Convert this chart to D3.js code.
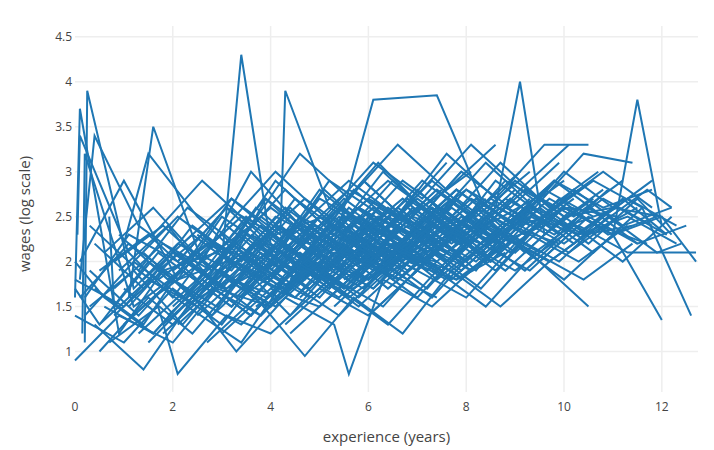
<!DOCTYPE html><html><head><meta charset="utf-8"><script src="https://cdn.jsdelivr.net/npm/d3@7"></script>
<style>body{margin:0;background:#fff}text{font-family:"Open Sans",sans-serif}</style></head><body><svg id="c" width="714" height="450"></svg>
<script>
const xTicks=[0,2,4,6,8,10,12];
const yTicks=[1,1.5,2,2.5,3,3.5,4,4.5];
const workers=[
[[0,1.6],[0.1,3.7],[0.9,1.2],[1.8,1.9],[2.9,2.1],[3.9,1.8],[4.8,2.3],[5.9,2.0]],
[[0.2,1.1],[0.25,3.9],[1.2,1.7],[2.1,2.2],[3.2,1.9],[4.1,2.5],[5.2,2.2],[6.1,2.6]],
[[0.05,2.3],[0.1,3.4],[1.1,2.1],[2.0,1.6],[3.1,2.4],[4.0,2.0],[5.0,2.7],[6.0,2.4]],
[[0,0.9],[0.9,1.4],[2.0,1.1],[2.9,1.7],[4.0,1.5],[5.1,2.0],[6.0,1.8],[7.1,2.2]],
[[0.3,1.5],[1.2,1.9],[2.2,1.3],[3.3,2.0],[4.2,2.4],[5.3,1.9],[6.2,2.6],[7.2,2.3]],
[[0.1,1.8],[0.4,3.4],[1.3,2.4],[2.3,2.0],[3.2,2.7],[4.3,2.2],[5.2,2.9],[6.3,2.5]],
[[0.5,1.0],[1.5,1.6],[2.4,1.2],[3.5,1.9],[4.4,1.4],[5.5,2.1],[6.4,1.7],[7.5,2.2]],
[[0.8,1.7],[1.8,2.2],[2.8,1.9],[3.7,2.6],[4.8,2.1],[5.7,2.8],[6.8,2.3],[7.7,2.7]],
[[1.0,1.3],[2.0,1.8],[2.9,1.5],[4.0,2.3],[4.9,1.9],[6.0,2.4],[6.9,2.1],[8.0,2.6]],
[[1.2,2.0],[2.1,2.5],[3.1,2.1],[4.1,2.9],[5.1,2.4],[6.2,3.1],[7.1,2.6],[8.1,3.0]],
[[1.5,1.1],[2.4,1.6],[3.4,1.3],[4.5,1.9],[5.4,1.6],[6.5,2.2],[7.4,1.8],[8.5,2.3]],
[[1.7,1.9],[2.6,2.3],[3.6,1.8],[4.6,2.5],[5.6,2.2],[6.7,2.7],[7.6,2.3],[8.7,2.8]],
[[2.0,1.5],[3.0,2.0],[3.4,4.3],[4.0,2.2],[5.0,1.8],[6.0,2.5],[7.0,2.1],[8.0,2.4],[9.0,2.2]],
[[2.2,2.2],[3.2,2.7],[4.2,2.3],[4.3,3.9],[5.2,2.6],[6.2,2.3],[7.3,2.9],[8.2,2.5],[9.3,3.0]],
[[2.5,1.4],[3.5,1.9],[4.5,1.6],[5.5,2.2],[6.5,1.8],[7.5,2.4],[8.5,2.0],[9.5,2.5]],
[[2.8,1.8],[3.8,2.4],[4.8,2.0],[5.8,2.6],[6.8,2.3],[7.8,2.8],[8.8,2.4],[9.8,2.9]],
[[3.0,1.2],[4.0,1.7],[5.0,1.5],[6.0,2.0],[7.0,1.6],[8.0,2.2],[9.0,1.9],[10.0,2.3]],
[[3.3,2.0],[4.3,2.6],[5.3,2.2],[6.1,3.8],[7.4,3.85],[8.3,2.7],[9.3,2.4],[10.3,2.8]],
[[3.6,1.6],[4.6,2.1],[5.6,1.7],[6.6,2.4],[7.6,2.0],[8.6,2.6],[9.1,4.0],[9.6,2.3],[10.6,2.7]],
[[4.0,1.9],[5.0,2.5],[6.0,2.1],[7.0,2.8],[8.0,2.3],[9.0,2.9],[10.0,2.5],[11.0,2.6]],
[[4.3,1.3],[5.3,1.8],[6.3,1.5],[7.3,2.1],[8.3,1.7],[9.3,2.3],[10.3,2.0],[11.3,2.4]],
[[4.6,2.3],[5.6,2.8],[6.6,2.5],[7.6,3.2],[8.6,2.7],[9.6,3.3],[10.5,3.3]],
[[5.0,1.7],[6.0,2.2],[7.0,1.9],[8.0,2.5],[9.0,2.1],[10.0,2.6],[11.0,2.3],[11.5,3.8],[12.0,2.4]],
[[5.3,1.5],[6.3,2.0],[7.3,1.6],[8.3,2.2],[9.3,1.9],[10.3,2.4],[11.3,2.1],[12.7,2.1]],
[[5.6,2.0],[6.6,2.6],[7.6,2.2],[8.6,2.9],[9.6,2.5],[10.6,2.9],[11.6,2.6],[12.6,1.4]],
[[6.0,1.4],[7.0,1.9],[8.0,1.6],[9.0,2.2],[10.0,1.8],[11.0,2.3],[12.0,1.35]],
[[6.5,1.8],[7.5,2.4],[8.5,2.0],[9.5,2.6],[10.5,2.2],[11.5,2.7],[12.2,2.3]],
[[7.0,2.2],[8.0,2.8],[9.0,2.4],[10.0,3.0],[11.0,2.6],[12.0,2.5],[12.7,2.0]],
[[0,1.4],[1.0,1.1],[2.0,1.7],[3.0,1.3],[4.0,2.0],[5.0,1.6],[6.0,2.2],[7.0,1.9]],
[[0.1,2.0],[1.0,2.9],[2.1,1.8],[3.0,2.5],[4.1,2.1],[5.0,2.8],[6.1,2.3],[7.0,2.6]],
[[0.4,1.3],[1.4,0.8],[2.3,1.5],[3.4,1.1],[4.3,1.8],[5.4,1.4],[6.3,1.9],[7.4,1.6]],
[[0.6,2.1],[1.6,2.6],[2.6,2.0],[3.6,3.0],[4.6,2.4],[5.6,2.9],[6.6,2.5],[7.6,3.1]],
[[0.7,1.1],[1.7,1.5],[2.1,0.75],[3.1,1.4],[4.0,1.2],[5.0,1.7],[6.0,1.4],[7.0,1.9]],
[[0.9,1.9],[1.9,2.4],[2.9,1.7],[3.9,2.7],[4.9,2.3],[5.9,2.9],[6.9,2.4],[7.9,3.0]],
[[1.1,1.6],[1.6,3.5],[2.6,2.0],[3.6,2.4],[4.6,1.9],[5.6,2.6],[6.6,2.2],[7.6,2.5]],
[[1.3,1.2],[2.3,1.7],[3.3,1.0],[4.3,1.6],[5.3,1.3],[5.6,0.75],[6.3,1.8],[7.3,1.5],[8.3,2.0]],
[[1.6,2.3],[2.6,2.9],[3.6,2.4],[4.6,3.2],[5.6,2.7],[6.6,3.3],[7.6,2.8],[8.6,3.3]],
[[1.9,1.4],[2.9,1.9],[3.9,1.5],[4.9,2.0],[5.9,1.7],[6.9,2.3],[7.9,1.9],[8.9,2.4]],
[[2.3,1.7],[3.3,2.2],[4.3,1.8],[5.3,2.5],[6.3,2.0],[7.3,2.6],[8.3,2.2],[9.3,2.7]],
[[2.7,1.1],[3.7,1.6],[4.7,0.95],[5.7,1.6],[6.7,1.2],[7.7,1.9],[8.7,1.5],[9.7,2.0]],
[[3.1,2.4],[4.1,3.0],[5.1,2.5],[6.1,3.1],[7.1,2.7],[8.1,3.3],[9.1,2.8],[10.1,3.3]],
[[3.5,1.5],[4.5,2.1],[5.5,1.7],[6.5,2.3],[7.5,1.9],[8.5,2.5],[9.5,2.0],[10.5,1.5]],
[[3.9,1.8],[4.9,2.3],[5.9,1.9],[6.9,2.6],[7.9,2.2],[8.9,2.7],[9.9,2.3],[10.9,2.8]],
[[4.4,1.2],[5.4,1.7],[6.4,1.3],[7.4,1.9],[8.4,1.5],[9.4,2.1],[10.4,1.8],[11.4,2.2]],
[[4.8,2.0],[5.8,2.5],[6.8,2.1],[7.8,2.7],[8.8,2.3],[9.8,2.9],[10.8,2.5],[11.8,2.9]],
[[5.2,1.6],[6.2,2.1],[7.2,1.7],[8.2,2.3],[9.2,1.9],[10.2,2.4],[11.2,2.0],[12.2,2.5]],
[[5.8,2.2],[6.8,2.7],[7.8,2.3],[8.8,2.9],[9.8,2.6],[10.8,3.0],[11.8,2.6]],
[[6.2,1.9],[7.2,2.4],[8.2,1.9],[9.2,2.6],[10.2,2.2],[11.2,2.7],[12.1,2.3]],
[[0,1.7],[0.5,1.3],[1.5,2.0],[2.5,1.6],[3.5,2.3],[4.5,1.9],[5.5,2.5],[6.5,2.1]],
[[0.15,1.2],[0.2,3.2],[1.2,1.5],[2.2,1.9],[3.2,1.5],[4.2,2.1],[5.2,1.7],[6.2,2.3]],
[[0.3,2.4],[1.3,1.9],[2.3,2.6],[3.3,2.2],[4.3,2.8],[5.3,2.3],[6.3,3.0],[7.3,2.5]],
[[0.5,1.9],[1.5,2.3],[2.5,1.8],[3.5,2.5],[4.5,2.1],[5.5,2.7],[6.5,2.3],[7.5,2.8]],
[[0.8,1.4],[1.8,1.9],[2.8,1.4],[3.8,2.1],[4.8,1.7],[5.8,2.3],[6.8,1.9],[7.8,2.3]],
[[1.0,2.2],[1.5,3.2],[2.5,2.5],[3.5,2.0],[4.5,2.7],[5.5,2.3],[6.5,2.9],[7.5,2.4]],
[[1.4,1.8],[2.4,2.3],[3.4,1.9],[4.4,2.5],[5.4,2.0],[6.4,2.6],[7.4,2.2],[8.4,2.7]],
[[1.8,1.3],[2.8,1.8],[3.8,1.4],[4.8,2.0],[5.8,1.6],[6.8,2.1],[7.8,1.8],[8.8,2.2]],
[[2.1,2.0],[3.1,2.6],[4.1,2.1],[5.1,2.8],[6.1,2.3],[7.1,2.9],[8.1,2.5],[9.1,3.0]],
[[2.4,1.6],[3.4,2.1],[4.4,1.7],[5.4,2.3],[6.4,1.9],[7.4,2.5],[8.4,2.0],[9.4,2.6]],
[[2.9,2.1],[3.9,2.7],[4.9,2.2],[5.9,2.9],[6.9,2.4],[7.9,3.0],[8.9,2.6],[9.9,3.1]],
[[3.2,1.7],[4.2,2.2],[5.2,1.8],[6.2,2.4],[7.2,2.0],[8.2,2.6],[9.2,2.1],[10.2,2.6]],
[[3.7,2.2],[4.7,2.7],[5.7,2.3],[6.7,2.9],[7.7,2.5],[8.7,3.1],[9.7,2.6],[10.7,3.0]],
[[4.1,1.6],[5.1,2.0],[6.1,1.7],[7.1,2.3],[8.1,1.9],[9.1,2.4],[10.1,2.1],[11.1,2.5]],
[[4.5,1.9],[5.5,2.4],[6.5,2.0],[7.5,2.6],[8.5,2.2],[9.5,2.7],[10.5,2.3],[11.5,2.6]],
[[5.4,2.4],[6.4,2.9],[7.4,2.5],[8.4,3.1],[9.4,2.6],[10.4,3.2],[11.4,3.1]],
[[5.9,1.7],[6.9,2.2],[7.9,1.8],[8.9,2.3],[9.9,2.0],[10.9,2.5],[11.9,2.1],[12.4,2.2]],
[[6.7,2.1],[7.7,2.6],[8.7,2.2],[9.7,2.7],[10.7,2.4],[11.7,2.8],[12.2,2.6]],
[[0,2.0],[0.6,1.6],[1.6,1.2],[2.6,1.8],[3.6,1.4],[4.6,2.0],[5.6,1.6],[6.6,2.0]],
[[0.2,1.6],[1.1,2.3],[2.1,2.0],[3.1,2.6],[4.1,2.3],[5.1,2.5],[6.1,2.0],[7.1,2.4]],
[[0.4,1.7],[1.4,1.3],[2.4,2.1],[3.4,1.7],[4.4,2.4],[5.4,1.9],[6.4,2.1],[7.4,2.0]],
[[0.7,2.5],[0.8,1.5],[1.7,2.1],[2.7,1.7],[3.7,2.2],[4.7,1.8],[5.7,2.4],[6.7,2.0]]
];
// more workers, yearly observations: first experience, then log wages year by year
const yearly=[
[0,1.8,1.5,2.1,1.7,2.3,1.9,2.2,2.0],[0.2,1.4,2.0,1.6,2.2,1.8,2.4,2.0,2.3],[0.4,2.2,1.7,2.4,2.0,2.6,2.1,2.5,2.2],
[0.6,1.5,1.2,1.8,1.4,2.0,1.7,2.1,1.8],[0.8,2.0,2.4,1.9,2.5,2.1,2.6,2.2,2.7],[1.0,1.7,1.3,1.9,1.5,2.2,1.8,2.3,2.0],
[1.2,1.4,1.9,1.5,2.1,1.7,2.2,1.9,2.4],[1.4,2.1,1.6,2.3,1.9,2.5,2.0,2.6,2.3],[1.6,1.6,2.0,1.7,2.3,1.8,2.4,2.1,2.5],
[1.8,1.2,1.7,1.4,1.9,1.5,2.0,1.8,2.1],[2.0,1.9,2.3,1.8,2.5,2.2,2.7,2.3,2.8],[2.2,1.5,1.8,1.6,2.2,1.9,2.3,2.0,2.5],
[2.4,2.0,2.5,2.1,2.6,2.3,2.8,2.4,2.7],[2.6,1.7,2.1,1.8,2.3,2.0,2.5,2.2,2.4],[2.8,1.4,1.9,1.6,2.1,1.8,2.3,1.9,2.4],
[3.0,2.1,2.6,2.2,2.7,2.4,2.8,2.5,2.9],[3.2,1.8,2.2,1.9,2.5,2.1,2.6,2.3,2.7],[3.4,1.6,2.0,1.7,2.2,1.9,2.4,2.1,2.5],
[3.6,2.3,2.0,2.5,2.2,2.7,2.3,2.8,2.5],[3.8,1.9,2.4,2.0,2.6,2.2,2.7,2.4,2.8],[4.0,1.7,2.1,1.8,2.4,2.0,2.5,2.2,2.6],
[4.2,2.0,2.5,2.1,2.7,2.3,2.8,2.5,2.9],[4.4,1.8,2.2,1.9,2.5,2.1,2.6,2.3,2.4],[4.6,1.6,2.1,1.8,2.3,1.9,2.5,2.1,2.6],
[4.8,2.2,2.6,2.3,2.8,2.4,2.9,2.6,2.8],[5.0,1.9,2.3,2.0,2.5,2.2,2.6,2.3,2.5],[5.2,2.1,2.5,2.2,2.7,2.3,2.8,2.4,2.6],
[5.5,1.8,2.2,1.9,2.4,2.1,2.6,2.2,2.4],[5.8,2.0,2.4,2.1,2.6,2.3,2.7,2.4],[6.1,2.3,2.6,2.2,2.8,2.4,2.6,2.3],
[0.1,1.6,2.2,1.8,2.0,1.7,2.3,1.9,2.1],[0.3,1.9,1.4,2.0,1.6,2.2,1.8,2.3,2.1],[0.5,1.3,1.8,1.5,2.0,1.6,2.1,1.9,2.2],
[0.9,2.3,1.8,2.2,1.9,2.4,2.0,2.5,2.3],[1.1,1.5,2.1,1.7,2.0,1.8,2.3,2.0,2.4],[1.3,1.9,1.5,2.0,1.7,2.1,1.9,2.4,2.1],
[1.7,1.8,2.2,2.0,2.4,2.1,2.5,2.2,2.6],[2.1,1.3,1.8,1.5,2.0,1.7,2.2,1.9,2.3],[2.5,2.3,1.9,2.4,2.1,2.6,2.2,2.7,2.4],
[2.9,1.9,1.6,2.1,1.8,2.3,2.0,2.4,2.2],[3.3,2.2,1.8,2.3,2.0,2.4,2.2,2.6,2.3],[3.7,1.5,1.9,1.7,2.1,1.8,2.3,2.0,2.4],
[4.1,2.4,2.1,2.6,2.2,2.7,2.4,2.6,2.5],[4.5,2.0,1.7,2.2,1.9,2.4,2.0,2.5,2.2],[4.9,1.8,2.4,2.0,2.5,2.1,2.7,2.3,2.5],
[5.3,2.4,2.0,2.6,2.2,2.5,2.3,2.7,2.4],[5.7,1.7,2.1,1.9,2.3,2.0,2.4,2.2],[6.3,2.0,2.5,2.2,2.6,2.3,2.5,2.2]
];
const yearlyPts=yearly.map(r=>r.slice(1).map((v,i)=>[r[0]+i,v]));
const series=workers.concat(yearlyPts);
const svg=d3.select("#c"),L=75,R=698,T=26,B=392;
const x=d3.scaleLinear().domain([0,12.74]).range([L,R]);
const y=d3.scaleLinear().domain([0.55,4.62]).range([B,T]);
const g=svg.append("g");
g.selectAll(".gx").data(xTicks).join("line").attr("x1",d=>x(d)).attr("x2",d=>x(d)).attr("y1",T).attr("y2",B).attr("stroke",d=>d===0?"#fff":"#eee").attr("stroke-width",d=>d===0?0:1.5);
g.selectAll(".gy").data(yTicks).join("line").attr("y1",d=>y(d)).attr("y2",d=>y(d)).attr("x1",L).attr("x2",R).attr("stroke","#eee").attr("stroke-width",1.5);
const line=d3.line().x(d=>x(d[0])).y(d=>y(d[1]));
svg.append("g").selectAll("path").data(series).join("path").attr("d",line).attr("fill","none").attr("stroke","#1f77b4").attr("stroke-width",2);
svg.append("g").selectAll("text").data(xTicks).join("text").attr("x",d=>x(d)).attr("y",B+19).attr("text-anchor","middle").attr("font-size",12).attr("fill","#444").text(d=>d);
svg.append("g").selectAll("text").data(yTicks).join("text").attr("x",L-3).attr("y",d=>y(d)+4).attr("text-anchor","end").attr("font-size",12).attr("fill","#444").text(d=>d);
svg.append("text").attr("x",x(6.37)).attr("y",442).attr("text-anchor","middle").attr("font-size",15).attr("fill","#444").text("experience (years)");
svg.append("text").attr("transform",`translate(30,${(T+B)/2+5}) rotate(-90)`).attr("text-anchor","middle").attr("font-size",15).attr("fill","#444").text("wages (log scale)");
</script></body></html>
